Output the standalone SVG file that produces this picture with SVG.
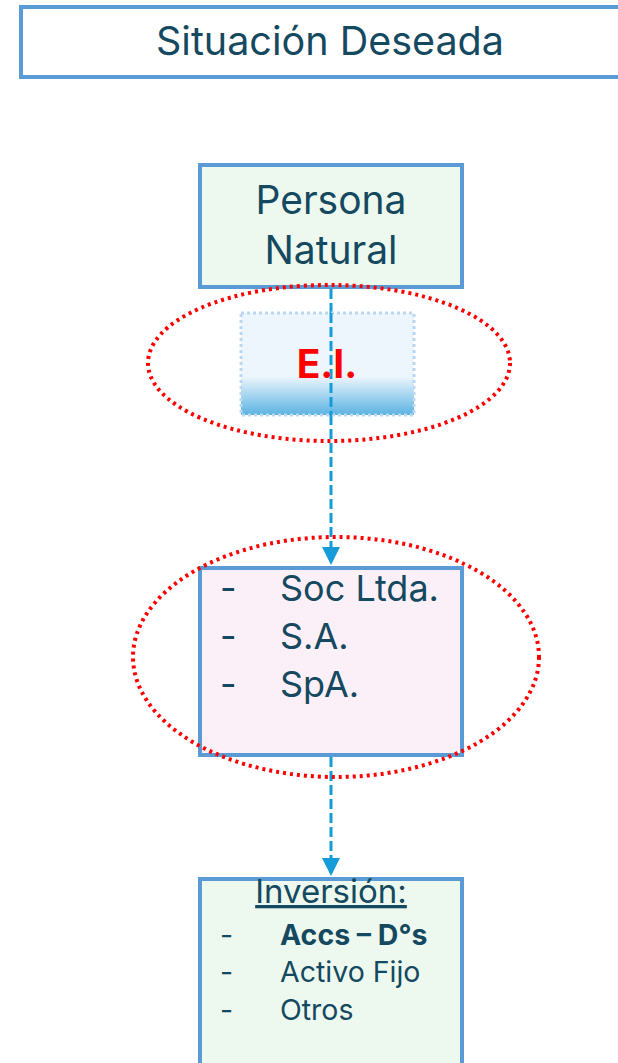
<svg xmlns="http://www.w3.org/2000/svg" width="618" height="1063" viewBox="0 0 618 1063">
<style>
.box{stroke:#5B9BD5;stroke-width:4}
.t{font-family:Inter,"Noto Sans","Liberation Sans",sans-serif;fill:#15495F}
.ring{fill:none;stroke:#FF0000;stroke-width:4;stroke-dasharray:3 4}
.conn{stroke:#159BD8;stroke-width:3;stroke-dasharray:10 4;fill:none}
</style>
<defs>
<marker id="arr" markerWidth="6" markerHeight="6" refX="5" refY="3" orient="auto" markerUnits="strokeWidth">
<path d="M0,0 L6,3 L0,6 Z" fill="#159BD8"/>
</marker>
<linearGradient id="eig" x1="0" y1="0" x2="0" y2="1">
<stop offset="0" stop-color="#EEF6FD"/>
<stop offset="0.62" stop-color="#EEF6FD"/>
<stop offset="1" stop-color="#5AB3E2"/>
</linearGradient>
</defs>
<rect width="618" height="1063" fill="#FFFFFF"/>
<g id="title">
<rect class="box" x="21" y="7" width="610" height="70" fill="#FFFFFF"/>
<text class="t" x="330" y="55" font-size="39.5" text-anchor="middle">Situación Deseada</text>
</g>
<g id="connectors">
<line class="conn" x1="331" y1="289" x2="331" y2="562" marker-end="url(#arr)"/>
<line class="conn" x1="331" y1="757" x2="331" y2="873" marker-end="url(#arr)"/>
</g>
<g id="persona">
<rect class="box" x="200" y="165" width="262" height="122" fill="#EDF9EF"/>
<text class="t" x="331" y="214" font-size="39" text-anchor="middle">Persona</text>
<text class="t" x="331" y="264" font-size="39" text-anchor="middle">Natural</text>
</g>
<g id="ei">
<rect x="241" y="313" width="173" height="102" fill="url(#eig)" stroke="#BCD8F1" stroke-width="3" stroke-dasharray="3 3"/>
<line class="conn" x1="331" y1="313" x2="331" y2="415"/>
<text x="327" y="378" font-family="Inter,'Liberation Sans',sans-serif" font-weight="bold" font-size="39" fill="#FF0000" text-anchor="middle">E.I.</text>
</g>
<g id="sociedades">
<rect class="box" x="200" y="568" width="262" height="187" fill="#FCF0F8"/>
<text class="t" font-size="36">
<tspan x="220" y="601">-</tspan><tspan x="280" y="601">Soc Ltda.</tspan>
<tspan x="220" y="649">-</tspan><tspan x="280" y="649">S.A.</tspan>
<tspan x="220" y="697">-</tspan><tspan x="280" y="697">SpA.</tspan>
</text>
</g>
<g id="inversion">
<rect class="box" x="200" y="879" width="262" height="200" fill="#EDF9EF"/>
<text class="t" x="331" y="903" font-size="33" text-anchor="middle" text-decoration="underline">Inversión:</text>
<text class="t" font-size="28.5">
<tspan x="220" y="945">-</tspan><tspan x="280" y="945" font-weight="bold">Accs – D°s</tspan>
<tspan x="220" y="982">-</tspan><tspan x="280" y="982">Activo Fijo</tspan>
<tspan x="220" y="1020">-</tspan><tspan x="280" y="1020">Otros</tspan>
</text>
</g>
<g id="rings">
<ellipse class="ring" cx="329" cy="363" rx="181" ry="78"/>
<ellipse class="ring" cx="336" cy="657" rx="203" ry="120"/>
</g>
</svg>
